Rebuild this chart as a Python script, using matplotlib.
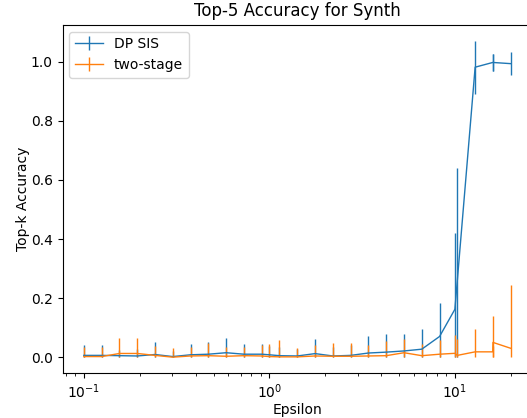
import numpy as np
import matplotlib
matplotlib.use("Agg")
import matplotlib.pyplot as plt

# privacy budgets that were evaluated
epsilons = [0.1, 0.1247, 0.1556, 0.1941, 0.2416, 0.3014, 0.376, 0.469, 0.585,
            0.7296, 0.9095, 1.0, 1.134, 1.4146, 1.764, 2.2, 2.743, 3.42, 4.265,
            5.318, 6.632, 8.27, 10.0, 10.31, 12.86, 16.0, 16.04, 20.0]

# DP SIS: mean top-5 accuracy and std over runs
sis_mean = [0.006, 0.006, 0.005, 0.004, 0.009, 0.002, 0.008, 0.010, 0.015,
            0.010, 0.010, 0.008, 0.005, 0.004, 0.012, 0.004, 0.006, 0.014,
            0.017, 0.021, 0.027, 0.070, 0.162, 0.260, 0.982, 0.998, 0.998, 0.994]
sis_std = [0.035, 0.035, 0.020, 0.025, 0.044, 0.020, 0.038, 0.043, 0.049,
           0.036, 0.036, 0.030, 0.030, 0.025, 0.049, 0.030, 0.035, 0.058,
           0.061, 0.059, 0.067, 0.112, 0.259, 0.380, 0.090, 0.030, 0.030, 0.038]

# two-stage baseline
two_mean = [0.002, 0.002, 0.0125, 0.0125, 0.006, 0.000, 0.004, 0.005, 0.003,
            0.005, 0.004, 0.002, 0.001, 0.001, 0.004, 0.003, 0.003, 0.004,
            0.005, 0.015, 0.005, 0.010, 0.013, 0.006, 0.018, 0.018, 0.050, 0.030]
two_std = [0.031, 0.031, 0.054, 0.052, 0.032, 0.030, 0.029, 0.042, 0.030,
           0.028, 0.037, 0.044, 0.057, 0.030, 0.036, 0.044, 0.044, 0.036,
           0.050, 0.048, 0.041, 0.048, 0.063, 0.055, 0.077, 0.020, 0.090, 0.213]


def clipped_err(mean, std):
    # accuracy can't go below zero, so cut the lower bar there
    mean = np.array(mean)
    std = np.array(std)
    return [np.minimum(std, mean), std]


fig = plt.figure(figsize=(5.27, 4.18), dpi=100)
ax = fig.add_axes([0.1186, 0.1077, 0.891, 0.833])

ax.errorbar(epsilons, sis_mean, yerr=clipped_err(sis_mean, sis_std), label="DP SIS", lw=1)
ax.errorbar(epsilons, two_mean, yerr=clipped_err(two_mean, two_std), label="two-stage", lw=1)

ax.set_xscale("log")
ax.set_xlabel("Epsilon", labelpad=1)
ax.set_ylabel("Top-k Accuracy", labelpad=0.5)
ax.set_title("Top-5 Accuracy for Synth")
ax.legend(loc="upper left")

fig.savefig("out.png", dpi=100)
